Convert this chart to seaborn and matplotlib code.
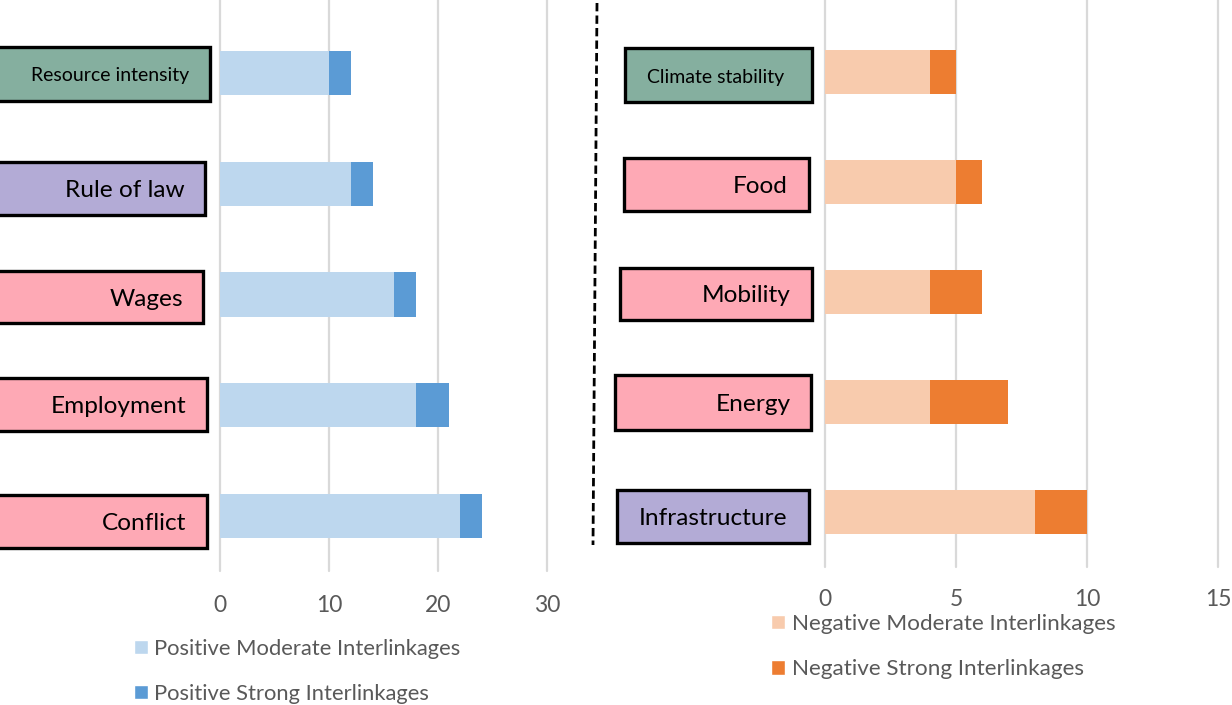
import matplotlib
matplotlib.use("Agg")
import matplotlib.pyplot as plt
import seaborn as sns
import pandas as pd
from matplotlib.patches import Rectangle, Patch
from matplotlib.lines import Line2D

# Positive interlinkages
pos_categories = ["Resource intensity", "Rule of law", "Wages", "Employment", "Conflict"]
pos_moderate = [10, 12, 16, 18, 22]
pos_strong = [2, 2, 2, 3, 2]
pos_ticks = [0, 10, 20, 30]

# Negative interlinkages
neg_categories = ["Climate stability", "Food", "Mobility", "Energy", "Infrastructure"]
neg_moderate = [4, 5, 4, 4, 8]
neg_strong = [1, 1, 2, 3, 2]
neg_ticks = [0, 5, 10, 15]

legend_labels = ["Positive Moderate Interlinkages", "Positive Strong Interlinkages",
                 "Negative Moderate Interlinkages", "Negative Strong Interlinkages"]

sns.set_theme(style="white")
plt.rcParams["font.family"] = ["Lato", "DejaVu Sans"]

W, H = 1232, 705
fig = plt.figure(figsize=(W / 100, H / 100), dpi=100)


def fx(px):
    return px / W


def fy(py):
    return 1 - py / H


def axes_px(x0, y0, x1, y1):
    return fig.add_axes([fx(x0), fy(y1), fx(x1) - fx(x0), (y1 - y0) / H])


GRID = "#D9D9D9"
TICK = "#595959"
GREEN, PINK, PURPLE = "#85AF9F", "#FEA9B5", "#B3ABD6"


def stacked(ax, cats, moderate, strong, light, dark, xmax, ticks, top_pad, pad):
    df = pd.DataFrame({"cat": cats, "moderate": moderate, "strong": strong})
    df["total"] = df["moderate"] + df["strong"]
    sns.barplot(data=df, x="total", y="cat", color=dark, width=0.4,
                saturation=1, linewidth=0, ax=ax, zorder=3)
    sns.barplot(data=df, x="moderate", y="cat", color=light, width=0.4,
                saturation=1, linewidth=0, ax=ax, zorder=3)
    ax.set_xlim(0, xmax)
    ax.set_ylim(len(cats) - 0.5, -0.5 - top_pad)
    ax.set_xticks(ticks)
    ax.set_yticks([])
    ax.set_xlabel("")
    ax.set_ylabel("")
    for s in ax.spines.values():
        s.set_visible(False)
    for t in ticks:
        ax.axvline(t, color=GRID, lw=1.6, zorder=1, clip_on=False)
    ax.tick_params(axis="x", length=0, pad=pad, labelsize=16.5, labelcolor=TICK)
    ax.patch.set_alpha(0)


ax1 = axes_px(220, 0, 547, 571)
stacked(ax1, pos_categories, pos_moderate, pos_strong, "#BDD7EE", "#5B9BD5",
        30, pos_ticks, 18 / 110.6, 17)

ax2 = axes_px(825, 0, 1218, 567)
stacked(ax2, neg_categories, neg_moderate, neg_strong, "#F8CBAD", "#ED7D31",
        15, neg_ticks, 17 / 110.0, 15.5)

# Category label boxes: (x0, y0, x1, y1, fill, text x, align, fontsize)
pos_boxes = [
    (-3, 47, 210, 101, GREEN, 110, "center", 14),
    (-3, 162, 205, 215, PURPLE, 185, "right", 17.6),
    (-3, 271, 203, 323, PINK, 183, "right", 17.6),
    (-3, 378, 207, 431, PINK, 186, "right", 17.6),
    (-3, 495, 207, 548, PINK, 186, "right", 17.6),
]
neg_boxes = [
    (625, 48, 812, 102, GREEN, 716, "center", 14),
    (624, 158, 809, 211, PINK, 788, "right", 17.6),
    (620, 268, 812, 320, PINK, 791, "right", 17.6),
    (615, 375, 811, 430, PINK, 791, "right", 17.6),
    (617, 490, 809, 543, PURPLE, 713, "center", 17.6),
]

for cats, boxes in ((pos_categories, pos_boxes), (neg_categories, neg_boxes)):
    for name, (x0, y0, x1, y1, fc, tx, ha, fs) in zip(cats, boxes):
        fig.add_artist(Rectangle((fx(x0), fy(y1)), fx(x1) - fx(x0), (y1 - y0) / H,
                                 transform=fig.transFigure, facecolor=fc,
                                 edgecolor="black", lw=2.4, zorder=5))
        fig.text(fx(tx), fy((y0 + y1) / 2 + 2), name, ha=ha, va="center",
                 fontsize=fs, color="black", zorder=6)

# Dashed divider between the two panels
fig.add_artist(Line2D([fx(597), fx(593)], [fy(3), fy(545)], transform=fig.transFigure,
                      color="black", lw=2.0, ls=(0, (3, 1.5))))

# Legends
h1 = [Patch(facecolor="#BDD7EE"), Patch(facecolor="#5B9BD5")]
h2 = [Patch(facecolor="#F8CBAD"), Patch(facecolor="#ED7D31")]
for handles, labels, x, y, fs in ((h1, legend_labels[:2], 134, 639, 15.8),
                                  (h2, legend_labels[2:], 771, 614, 16.2)):
    fig.legend(handles, labels, loc="upper left",
               bbox_to_anchor=(fx(x), fy(y)), frameon=False,
               fontsize=fs, labelcolor=TICK, handlelength=0.62,
               handleheight=0.62, handletextpad=0.3, labelspacing=1.12,
               borderaxespad=0, borderpad=0)

fig.savefig("out.png", dpi=100)
